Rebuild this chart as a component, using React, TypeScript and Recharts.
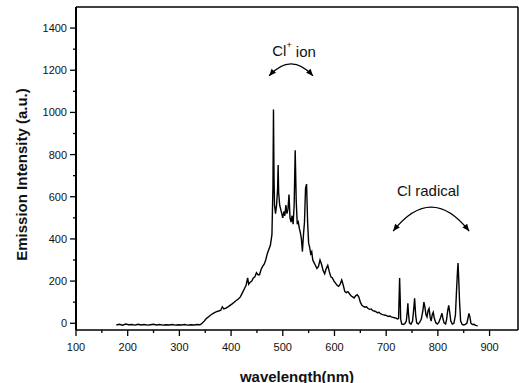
import React from "react";
import { LineChart, Line, XAxis, YAxis, ReferenceLine, ReferenceDot, Label } from "recharts";

// wavelength (nm) and emission intensity (a.u.)
const wavelength = [
  178, 184, 190, 196, 202, 208, 214, 220, 226, 232,
  238, 244, 250, 256, 262, 268, 274, 280, 286, 292,
  298, 304, 310, 316, 322, 328, 334, 340, 344, 348,
  352, 356, 360, 364, 368, 372, 376, 380, 383, 386,
  390, 394, 398, 402, 406, 410, 414, 418, 422, 426,
  429, 432, 434, 437, 440, 443, 446, 449, 452, 455,
  458, 461, 464, 467, 470, 473, 476, 479, 481, 482,
  483, 484, 486, 488, 490, 491, 492, 494, 496, 498,
  500, 502, 504, 506, 508, 510, 512, 514, 516, 518,
  520, 522, 524, 526, 528, 530, 532, 534, 536, 538,
  540, 542, 544, 546, 548, 550, 552, 554, 556, 558,
  560, 563, 566, 569, 572, 575, 578, 581, 584, 587,
  590, 593, 596, 599, 602, 605, 608, 611, 614, 617,
  620, 623, 626, 629, 632, 635, 638, 641, 644, 647,
  650, 653, 656, 659, 662, 665, 668, 671, 674, 677,
  680, 683, 686, 689, 692, 695, 698, 701, 704, 707,
  710, 713, 716, 719, 722, 724, 725, 726, 727, 728,
  730, 733, 736, 739, 741, 742, 743, 745, 748, 751,
  753, 755, 757, 759, 762, 765, 768, 771, 773, 775,
  777, 779, 781, 783, 785, 787, 789, 791, 793, 796,
  799, 802, 805, 808, 810, 812, 815, 817, 819, 821,
  823, 825, 828, 831, 834, 836, 838, 839, 840, 842,
  844, 847, 850, 853, 856, 858, 860, 862, 864, 867,
  870, 873, 877,
];

const intensity = [
  -8, -5, -9, -4, -7, -6, -9, -5, -8, -6,
  -9, -7, -5, -8, -6, -9, -7, -8, -6, -9,
  -7, -8, -6, -9, -7, -8, -6, -7, 0, 10,
  22, 30, 38, 45, 50, 55, 58, 62, 78, 68,
  72, 78, 85, 92, 100, 108, 115, 125, 145, 165,
  180, 215, 185, 195, 200, 215, 220, 240, 230, 230,
  255, 270, 280, 300, 330, 350, 370, 420, 650, 1014,
  700, 560, 520, 560, 640, 750, 620, 560, 540, 520,
  500, 530, 510, 560, 520, 540, 610, 500, 480, 510,
  470, 560, 820, 580, 470, 480, 450, 430, 400, 340,
  420, 480, 640, 660, 480, 380, 360, 330, 340, 300,
  290, 275, 260, 270, 300, 280, 250, 235, 260, 275,
  245, 220, 215, 200, 190, 180, 175, 185, 205, 180,
  150, 145, 150, 140, 130, 125, 120, 130, 135, 125,
  100, 85, 80, 76, 78, 70, 66, 68, 60, 58,
  55, 50, 52, 45, 42, 40, 38, 36, 32, 34,
  30, 28, 26, 24, 20, 22, 120, 214, 130, 20,
  -3, -6, -2, 10, 60, 95, 50, 2, -4, 10,
  60, 118, 40, 2, -4, 5, 20, 60, 100, 75,
  40, 30, 60, 70, 30, 10, 40, 52, 25, 2,
  -4, 5, 25, 47, 20, 2, -4, 20, 60, 85,
  50, 10, -4, 0, 40, 150, 250, 286, 230, 100,
  10, -6, -8, -5, 0, 20, 47, 30, 0, -6,
  -5, -10, -12,
];

const xTicks = [100, 150, 200, 250, 300, 350, 400, 450, 500, 550, 600, 650, 700, 750, 800, 850, 900];
const yTicks = [0, 100, 200, 300, 400, 500, 600, 700, 800, 900, 1000, 1100, 1200, 1300, 1400];

const data = wavelength.map((w, i) => ({ w, v: intensity[i] }));

const font = "'Liberation Sans', Arial, sans-serif";

const XTick = (props: any) => {
  const { x, y, payload } = props;
  const major = payload.value % 100 === 0;
  return (
    <g>
      <line x1={x} x2={x} y1={y} y2={y + (major ? 6 : 3)} stroke="#000" strokeWidth={1.3} />
      {major && (
        <text x={x} y={y + 17} textAnchor="middle" dominantBaseline="central" fontSize={11} fill="#111" fontFamily={font}>
          {payload.value}
        </text>
      )}
    </g>
  );
};

const YTick = (props: any) => {
  const { x, y, payload } = props;
  const major = payload.value % 200 === 0;
  return (
    <g>
      <line x1={x} x2={x - (major ? 6 : 3)} y1={y} y2={y} stroke="#000" strokeWidth={1.3} />
      {major && (
        <text x={x - 9} y={y} textAnchor="end" dominantBaseline="central" fontSize={11} fill="#111" fontFamily={font}>
          {payload.value}
        </text>
      )}
    </g>
  );
};

// arc with arrowheads at both ends, half width w, rise h
const arrowHead = (tx: number, ty: number, dx: number, dy: number) => {
  const len = Math.hypot(dx, dy);
  const ux = dx / len;
  const uy = dy / len;
  const bx = tx - ux * 7;
  const by = ty - uy * 7;
  return `M ${tx} ${ty} L ${bx - uy * 3} ${by + ux * 3} L ${bx + uy * 3} ${by - ux * 3} Z`;
};

const makeArc = (w: number, h: number, label: React.ReactNode, tdx: number, tdy: number) => (props: any) => {
  const { cx, cy } = props;
  const x0 = cx - w;
  const x1 = cx + w;
  const yb = cy + h;
  const c = cy - h;
  return (
    <g>
      <path d={`M ${x0} ${yb} Q ${cx} ${c} ${x1} ${yb}`} fill="none" stroke="#000" strokeWidth={1.3} />
      <path d={arrowHead(x0, yb, -w, 2 * h)} fill="#000" />
      <path d={arrowHead(x1, yb, w, 2 * h)} fill="#000" />
      <text x={cx + tdx} y={cy + tdy} textAnchor="middle" dominantBaseline="central" fontSize={15} fill="#111" fontFamily={font}>
        {label}
      </text>
    </g>
  );
};

const ionArc = makeArc(
  22,
  12,
  <>
    Cl
    <tspan fontSize={9} dy={-6}>+</tspan>
    <tspan dy={6}> ion</tspan>
  </>,
  3,
  -13
);
const radicalArc = makeArc(38, 24, "Cl radical", -3, -17);

export default function App() {
  return (
    <div style={{ position: "absolute", left: 0, top: 0, background: "#fff" }}>
      <LineChart
        width={519}
        height={383}
        data={data}
        margin={{ top: 7, right: 1, bottom: 0, left: 0 }}
        style={{ fontFamily: font }}
      >
        <XAxis
          dataKey="w"
          type="number"
          domain={[100, 955]}
          ticks={xTicks}
          interval={0}
          tick={<XTick />}
          tickLine={false}
          tickSize={0}
          tickMargin={0}
          height={53}
          axisLine={{ stroke: "#000", strokeWidth: 1.5 }}
        >
          <Label
            content={({ viewBox }: any) => (
              <text
                x={viewBox.x + viewBox.width / 2}
                y={viewBox.y + 46}
                textAnchor="middle"
                dominantBaseline="central"
                fontSize={15}
                fontWeight="bold"
                fill="#111"
                fontFamily={font}
              >
                wavelength(nm)
              </text>
            )}
          />
        </XAxis>
        <YAxis
          type="number"
          domain={[-32, 1500]}
          ticks={yTicks}
          interval={0}
          tick={<YTick />}
          tickLine={false}
          tickSize={0}
          tickMargin={0}
          width={76}
          axisLine={{ stroke: "#000", strokeWidth: 2 }}
        >
          <Label
            content={({ viewBox }: any) => {
              const x = viewBox.x + 21;
              const y = viewBox.y + viewBox.height / 2 + 6;
              return (
                <text
                  x={x}
                  y={y}
                  transform={`rotate(-90, ${x}, ${y})`}
                  textAnchor="middle"
                  dominantBaseline="central"
                  fontSize={15}
                  fontWeight="bold"
                  fill="#111"
                  fontFamily={font}
                >
                  Emission Intensity (a.u.)
                </text>
              );
            }}
          />
        </YAxis>
        <ReferenceLine y={1500} stroke="#000" strokeWidth={1.5} />
        <ReferenceLine x={955} stroke="#000" strokeWidth={1.5} />
        <Line
          type="linear"
          dataKey="v"
          stroke="#000"
          strokeWidth={1.4}
          dot={false}
          isAnimationActive={false}
        />
        <ReferenceDot x={516} y={1230} shape={ionArc} />
        <ReferenceDot x={787} y={551} shape={radicalArc} />
      </LineChart>
    </div>
  );
}
